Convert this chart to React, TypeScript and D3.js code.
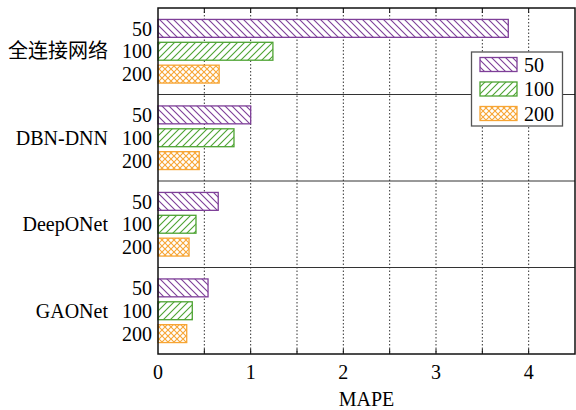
import React from "react";
import * as d3 from "d3";

const categories = ["全连接网络", "DBN-DNN", "DeepONet", "GAONet"];
const seriesNames = ["50", "100", "200"];
const values50 = [3.78, 1.0, 0.65, 0.54];
const values100 = [1.24, 0.82, 0.41, 0.37];
const values200 = [0.66, 0.445, 0.335, 0.31];
const xTicks = [0, 1, 2, 3, 4];
const xGrid = [0.5, 1, 1.5, 2, 2.5, 3, 3.5, 4];
const colors = ["#7e3f98", "#4da332", "#f7a534"];

const W = 576, H = 410;
const M = { left: 158, right: 1, top: 8, bottom: 56 };

export default function App() {
  const series = [values50, values100, values200];
  const x = d3.scaleLinear().domain([0, 4.5]).range([M.left, W - M.right]);
  const y0 = d3.scaleBand().domain(categories).range([M.top, H - M.bottom]).paddingInner(0).paddingOuter(0);
  const y1 = d3.scaleBand().domain(seriesNames).range([0, y0.bandwidth()]).paddingInner(0.217).paddingOuter(0.5);
  const font = "'Liberation Serif', 'Times New Roman', 'Noto Sans CJK SC', serif";
  const top = M.top, bottom = H - M.bottom;
  const fs = 20;
  return (
    <svg width={W} height={H} style={{ position: "absolute", left: 0, top: 0 }} fontFamily={font}>
      <defs>
        <pattern id="p50" patternUnits="userSpaceOnUse" width="7" height="7">
          <rect width="7" height="7" fill="#fff" />
          <path d="M-1,-1 L8,8 M-1,6 L1,8 M6,-1 L8,1" stroke={colors[0]} strokeWidth="1.1" />
        </pattern>
        <pattern id="p100" patternUnits="userSpaceOnUse" width="7" height="7">
          <rect width="7" height="7" fill="#fff" />
          <path d="M-1,8 L8,-1 M-1,1 L1,-1 M6,8 L8,6" stroke={colors[1]} strokeWidth="1.1" />
        </pattern>
        <pattern id="p200" patternUnits="userSpaceOnUse" width="6" height="6">
          <rect width="6" height="6" fill="#fff" />
          <path d="M-1,-1 L7,7 M-1,7 L7,-1" stroke={colors[2]} strokeWidth="1.1" />
        </pattern>
      </defs>
      <rect x={0} y={0} width={W} height={H} fill="#fff" />
      {xGrid.map((v) => (
        <line key={v} x1={x(v)} x2={x(v)} y1={top} y2={bottom} stroke="#333" strokeWidth={1} strokeDasharray="1.5,2" />
      ))}
      {categories.slice(1).map((c) => (
        <line key={c} x1={M.left} x2={W - M.right} y1={y0(c)!} y2={y0(c)!} stroke="#333" strokeWidth={1} />
      ))}
      {categories.map((c, ci) => (
        <g key={c}>
          {seriesNames.map((s, si) => {
            const yy = y0(c)! + y1(s)!;
            const v = series[si][ci];
            return (
              <g key={s}>
                <rect x={x(0)} y={yy} width={x(v) - x(0)} height={y1.bandwidth()} fill={`url(#p${s})`} stroke={colors[si]} strokeWidth={1.3} />
                <text x={152} y={yy + y1.bandwidth() / 2} dy="0.36em" textAnchor="end" fontSize={fs}>{s}</text>
              </g>
            );
          })}
          <text x={108} y={y0(c)! + y0.bandwidth() / 2} dy="0.36em" textAnchor="end" fontSize={fs}>{c}</text>
        </g>
      ))}
      <rect x={M.left} y={top} width={W - M.right - M.left} height={bottom - top} fill="none" stroke="#111" strokeWidth={1.5} />
      {xGrid.map((v) => (
        <g key={"t" + v}>
          <line x1={x(v)} x2={x(v)} y1={bottom} y2={bottom - 5} stroke="#111" />
          <line x1={x(v)} x2={x(v)} y1={top} y2={top + 5} stroke="#111" />
        </g>
      ))}
      {xTicks.map((v) => (
        <text key={"l" + v} x={x(v)} y={379} textAnchor="middle" fontSize={fs}>{v}</text>
      ))}
      <text x={x(2.25)} y={406} textAnchor="middle" fontSize={fs}>MAPE</text>
      <g>
        <rect x={471.5} y={52} width={91} height={74} fill="#fff" stroke="#555" strokeWidth={1.3} />
        {seriesNames.map((s, si) => (
          <g key={"lg" + s}>
            <rect x={480} y={57.5 + si * 24.5} width={37} height={14} fill={`url(#p${s})`} stroke={colors[si]} strokeWidth={1.3} />
            <text x={524} y={64.5 + si * 24.5} dy="0.36em" fontSize={fs}>{s}</text>
          </g>
        ))}
      </g>
    </svg>
  );
}
